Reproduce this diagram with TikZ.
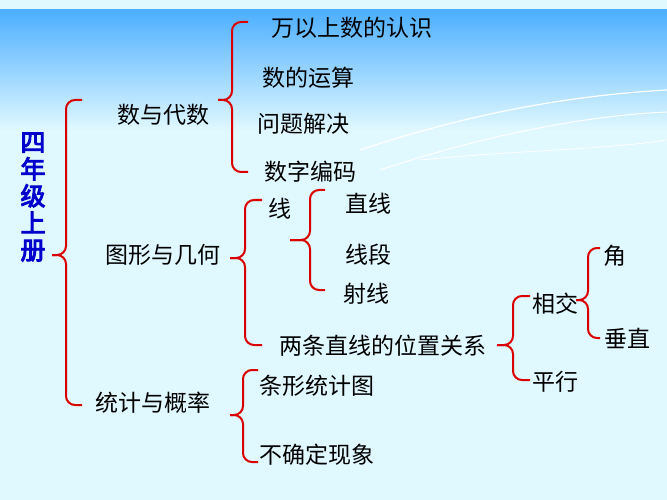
\documentclass[tikz,border=0pt]{standalone}
\usepackage{fontspec}
\newfontfamily\cjk{Noto Sans CJK SC}
\newfontfamily\cjkb[FakeBold=4]{Noto Sans CJK SC}
\begin{document}
\begin{tikzpicture}[x=1pt,y=-1pt,
  lab/.style={font=\cjk\fontsize{23}{26}\selectfont,inner sep=1pt,text=black},
  br/.style={draw=red!85!black,line width=2pt,rounded corners=9pt}]
\useasboundingbox (0,0) rectangle (667,500);
\fill[blue!22!cyan!12!white] (0,0) rectangle (667,500);
\shade[top color=blue!45!cyan!70!white,bottom color=blue!22!cyan!12!white] (0,10) rectangle (667,130);
\draw[white,line width=1.2pt] (360,150) .. controls (480,110) and (580,95) .. (667,90);
\draw[white,line width=1pt] (380,170) .. controls (500,130) and (600,115) .. (667,112);
\draw[white,line width=0.8pt] (420,160) .. controls (520,150) and (600,150) .. (667,140);
% title
\node[inner sep=0pt,align=center,font=\cjkb\fontsize{25}{27}\selectfont,text=blue!80!black] (title) at (33,197) {四\\年\\级\\上\\册};
% level 1
\node[lab] (a) at (163,115) {数与代数};
\node[lab] (b) at (163,255) {图形与几何};
\node[lab] (c) at (153,403) {统计与概率};
% level 2
\node[lab] (a1) at (352,28) {万以上数的认识};
\node[lab] (a2) at (308,78) {数的运算};
\node[lab] (a3) at (303,124) {问题解决};
\node[lab] (a4) at (310,172) {数字编码};
\node[lab] (b1) at (280,209) {线};
\node[lab] (b2) at (383,346) {两条直线的位置关系};
\node[lab] (l1) at (368,204) {直线};
\node[lab] (l2) at (368,255) {线段};
\node[lab] (l3) at (366,294) {射线};
\node[lab] (p1) at (555,304) {相交};
\node[lab] (p2) at (555,382) {平行};
\node[lab] (q1) at (615,256) {角};
\node[lab] (q2) at (627,338) {垂直};
\node[lab] (c1) at (317,386) {条形统计图};
\node[lab] (c2) at (317,455) {不确定现象};
\newcommand\mybrace[6]{%
 \draw[br] (#1,#4) -- (#2,#4) -- (#2,#5) -- (#3,#5);
 \draw[br] (#3,#5) -- (#2,#5) -- (#2,#6) -- (#1,#6);}
\mybrace{82}{66}{52}{100}{255}{405}
\mybrace{248}{232}{218}{22}{100}{172}
\mybrace{262}{245}{230}{200}{258}{345}
\mybrace{325}{310}{290}{190}{240}{290}
\mybrace{530}{513}{497}{296}{345}{380}
\mybrace{600}{588}{576}{248}{300}{338}
\mybrace{258}{243}{230}{370}{415}{462}
\end{tikzpicture}
\end{document}
